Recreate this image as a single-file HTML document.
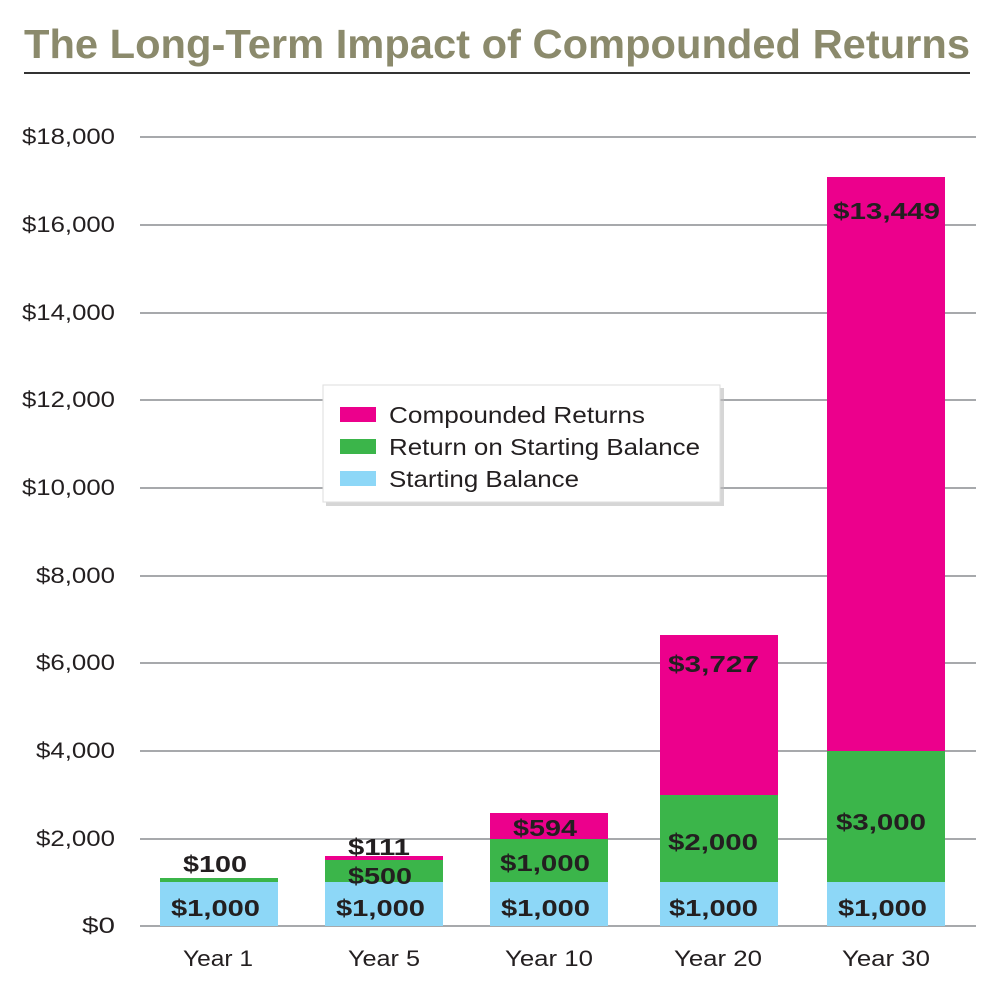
<!DOCTYPE html>
<html><head><style>
body{margin:0;background:#fff;}
svg text{font-family:"Liberation Sans",Arial,sans-serif;}
</style></head><body>
<svg width="1000" height="1000" xmlns="http://www.w3.org/2000/svg">
<rect width="1000" height="1000" fill="#fff"/>
<text x="24" y="58" font-size="41" font-weight="bold" fill="#8b8a6c" textLength="946" lengthAdjust="spacingAndGlyphs">The Long-Term Impact of Compounded Returns</text>
<line x1="24" y1="73" x2="970" y2="73" stroke="#333" stroke-width="2"/>
<g stroke="#a7a9ac" stroke-width="2">
<line x1="140" y1="137" x2="976" y2="137"/>
<line x1="140" y1="225" x2="976" y2="225"/>
<line x1="140" y1="313" x2="976" y2="313"/>
<line x1="140" y1="400" x2="976" y2="400"/>
<line x1="140" y1="488" x2="976" y2="488"/>
<line x1="140" y1="576" x2="976" y2="576"/>
<line x1="140" y1="663" x2="976" y2="663"/>
<line x1="140" y1="751" x2="976" y2="751"/>
<line x1="140" y1="839" x2="976" y2="839"/>
<line x1="140" y1="926" x2="976" y2="926"/>
</g>
<g font-size="22" fill="#231f20">
<text x="22" y="144" textLength="93" lengthAdjust="spacingAndGlyphs">$18,000</text>
<text x="22" y="232" textLength="93" lengthAdjust="spacingAndGlyphs">$16,000</text>
<text x="22" y="320" textLength="93" lengthAdjust="spacingAndGlyphs">$14,000</text>
<text x="22" y="407" textLength="93" lengthAdjust="spacingAndGlyphs">$12,000</text>
<text x="22" y="495" textLength="93" lengthAdjust="spacingAndGlyphs">$10,000</text>
<text x="36" y="583" textLength="79" lengthAdjust="spacingAndGlyphs">$8,000</text>
<text x="36" y="670" textLength="79" lengthAdjust="spacingAndGlyphs">$6,000</text>
<text x="36" y="758" textLength="79" lengthAdjust="spacingAndGlyphs">$4,000</text>
<text x="36" y="846" textLength="79" lengthAdjust="spacingAndGlyphs">$2,000</text>
<text x="82" y="933" textLength="33" lengthAdjust="spacingAndGlyphs">$0</text>
</g>
<rect x="160" y="882" width="118" height="44" fill="#8dd7f7"/>
<rect x="160" y="878" width="118" height="4" fill="#3bb54a"/>
<rect x="325" y="882" width="118" height="44" fill="#8dd7f7"/>
<rect x="325" y="860" width="118" height="22" fill="#3bb54a"/>
<rect x="325" y="856" width="118" height="4" fill="#ec008c"/>
<rect x="490" y="882" width="118" height="44" fill="#8dd7f7"/>
<rect x="490" y="839" width="118" height="43" fill="#3bb54a"/>
<rect x="490" y="813" width="118" height="26" fill="#ec008c"/>
<rect x="660" y="882" width="118" height="44" fill="#8dd7f7"/>
<rect x="660" y="795" width="118" height="87" fill="#3bb54a"/>
<rect x="660" y="635" width="118" height="160" fill="#ec008c"/>
<rect x="827" y="882" width="118" height="44" fill="#8dd7f7"/>
<rect x="827" y="751" width="118" height="131" fill="#3bb54a"/>
<rect x="827" y="177" width="118" height="574" fill="#ec008c"/>
<g font-size="23" font-weight="bold" fill="#231f20">
<text x="171" y="916" textLength="89" lengthAdjust="spacingAndGlyphs">$1,000</text>
<text x="336" y="916" textLength="89" lengthAdjust="spacingAndGlyphs">$1,000</text>
<text x="501" y="916" textLength="89" lengthAdjust="spacingAndGlyphs">$1,000</text>
<text x="669" y="916" textLength="89" lengthAdjust="spacingAndGlyphs">$1,000</text>
<text x="838" y="916" textLength="89" lengthAdjust="spacingAndGlyphs">$1,000</text>
<text x="183" y="872" textLength="64" lengthAdjust="spacingAndGlyphs">$100</text>
<text x="348" y="884" textLength="64" lengthAdjust="spacingAndGlyphs">$500</text>
<text x="348" y="855" textLength="62" lengthAdjust="spacingAndGlyphs">$111</text>
<text x="500" y="871" textLength="90" lengthAdjust="spacingAndGlyphs">$1,000</text>
<text x="513" y="836" textLength="64" lengthAdjust="spacingAndGlyphs">$594</text>
<text x="668" y="850" textLength="90" lengthAdjust="spacingAndGlyphs">$2,000</text>
<text x="668" y="672" textLength="91" lengthAdjust="spacingAndGlyphs">$3,727</text>
<text x="836" y="830" textLength="90" lengthAdjust="spacingAndGlyphs">$3,000</text>
<text x="833" y="219" textLength="107" lengthAdjust="spacingAndGlyphs">$13,449</text>
</g>
<g font-size="22" fill="#231f20">
<text x="183" y="966" textLength="70" lengthAdjust="spacingAndGlyphs">Year 1</text>
<text x="348" y="966" textLength="72" lengthAdjust="spacingAndGlyphs">Year 5</text>
<text x="505" y="966" textLength="88" lengthAdjust="spacingAndGlyphs">Year 10</text>
<text x="674" y="966" textLength="88" lengthAdjust="spacingAndGlyphs">Year 20</text>
<text x="842" y="966" textLength="88" lengthAdjust="spacingAndGlyphs">Year 30</text>
</g>
<rect x="326" y="388" width="398" height="118" fill="#bbb" opacity="0.6"/>
<rect x="323" y="385" width="397" height="117" fill="#fff" stroke="#ddd"/>
<rect x="340" y="407" width="36" height="15" fill="#ec008c"/>
<rect x="340" y="439" width="36" height="15" fill="#3bb54a"/>
<rect x="340" y="471" width="36" height="15" fill="#8dd7f7"/>
<g font-size="23" fill="#231f20">
<text x="389" y="423" textLength="256" lengthAdjust="spacingAndGlyphs">Compounded Returns</text>
<text x="389" y="455" textLength="311" lengthAdjust="spacingAndGlyphs">Return on Starting Balance</text>
<text x="389" y="487" textLength="190" lengthAdjust="spacingAndGlyphs">Starting Balance</text>
</g>
</svg>
</body></html>
